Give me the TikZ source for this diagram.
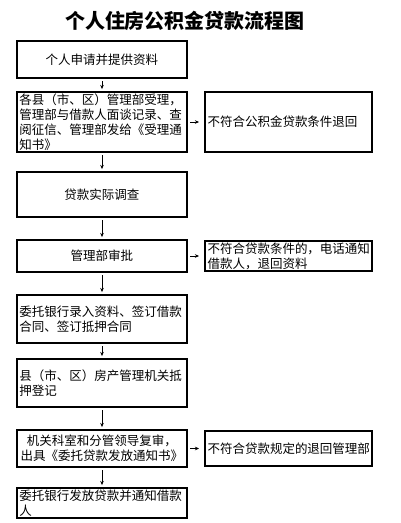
\documentclass[tikz,border=0pt]{standalone}
\usepackage{fontspec}
\setmainfont{Noto Sans CJK SC}
\usetikzlibrary{positioning,arrows.meta}

\begin{document}
\begin{tikzpicture}[x=1pt,y=-1pt,
  flow box/.style={draw, line width=1.3pt, minimum width=170pt, text width=165pt,
    inner xsep=2.5pt, inner ysep=0pt, outer sep=0pt, align=left, font=\fontsize{12.5}{15}\selectfont},
  side box/.style={flow box, minimum width=167pt, text width=162pt},
  flow arrow/.style={-{Stealth[length=4pt,width=3.5pt]}, thin, shorten <=3pt, shorten >=3pt},
  side arrow/.style={flow arrow, shorten >=6pt}]
\useasboundingbox (0,0) rectangle (400,523);
\node[font=\fontsize{20}{24}\selectfont\bfseries] (title) at (185,21) {个人住房公积金贷款流程图};
\node[flow box, align=center, minimum height=37pt] (apply) at (102,59.5) {个人申请并提供资料};
\node[flow box, minimum height=60pt, below=14pt of apply] (accept) {各县（市、区）管理部受理，\\管理部与借款人面谈记录、查\\阅征信、管理部发给《受理通\\知书》};
\node[flow box, align=center, minimum height=45pt, below=20pt of accept] (survey) {贷款实际调查};
\node[flow box, align=center, minimum height=32pt, below=23pt of survey] (approve) {管理部审批};
\node[flow box, minimum height=48pt, below=23pt of approve] (contract) {委托银行录入资料、签订借款\\合同、签订抵押合同};
\node[flow box, minimum height=48pt, below=16pt of contract] (register) {县（市、区）房产管理机关抵\\押登记};
\node[flow box, align=center, minimum height=37pt, below=23pt of register] (review) {机关科室和分管领导复审，\\出具《委托贷款发放通知书》};
\node[flow box, minimum height=30pt, below=21pt of review] (release) {委托银行发放贷款并通知借款\\人};
\node[side box, minimum height=60pt, right=18pt of accept] (reject1) {不符合公积金贷款条件退回};
\node[side box, minimum height=30pt, right=18pt of approve] (reject2) {不符合贷款条件的，电话通知\\借款人，退回资料};
\node[side box, align=center, minimum height=35pt, right=18pt of review] (reject3) {不符合贷款规定的退回管理部};
\draw[flow arrow] (apply) -- (accept);
\draw[flow arrow] (accept) -- (survey);
\draw[flow arrow] (survey) -- (approve);
\draw[flow arrow] (approve) -- (contract);
\draw[flow arrow] (contract) -- (register);
\draw[flow arrow] (register) -- (review);
\draw[flow arrow] (review) -- (release);
\draw[side arrow] (accept) -- (reject1);
\draw[side arrow] (approve) -- (reject2);
\draw[side arrow] (review) -- (reject3);
\end{tikzpicture}
\end{document}
